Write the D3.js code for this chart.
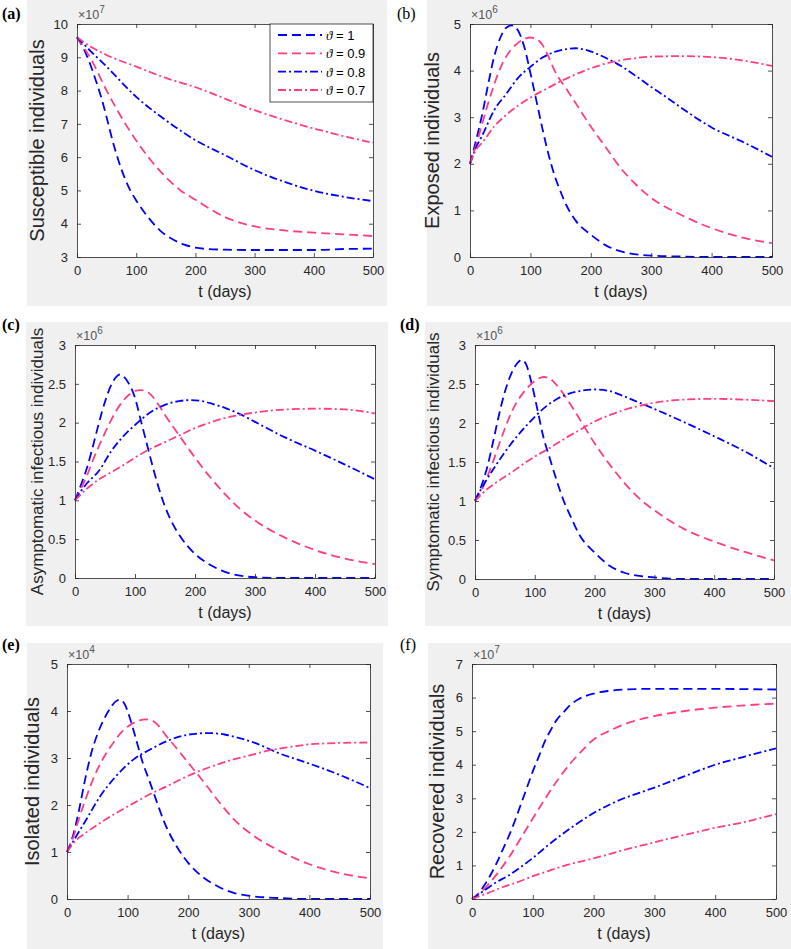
<!DOCTYPE html>
<html lang="en">
<head>
<meta charset="UTF-8">
<title>SEIR model compartments for different theta</title>
<script src="https://cdnjs.cloudflare.com/ajax/libs/d3/7.8.5/d3.min.js"></script>
<style>
  body { margin: 0; background: #fff; }
  svg { display: block; }
</style>
</head>
<body>
<svg id="fig" width="791" height="949"></svg>
<script>
// ---- data: [t (days), value in units of the panel exponent] ----
const thetaLabels = ["1", "0.9", "0.8", "0.7"];

// (a) susceptible, x10^7
const susT1 = [[0,9.6],[10,9.3],[20,8.9],[30,8.4],[40,7.85],[50,7.2],[60,6.5],[70,5.9],[80,5.4],[90,5.0],[100,4.7],[120,4.2],[140,3.8],[160,3.55],[180,3.38],[200,3.28],[220,3.24],[250,3.22],[300,3.21],[350,3.21],[400,3.21],[450,3.24],[500,3.25]];
const susT09 = [[0,9.6],[25,8.9],[50,8.0],[75,7.2],[100,6.5],[125,5.9],[150,5.4],[175,5.0],[200,4.72],[250,4.2],[300,3.92],[350,3.8],[400,3.73],[450,3.68],[500,3.63]];
const susT08 = [[0,9.6],[25,9.15],[50,8.72],[100,7.81],[150,7.11],[200,6.51],[250,6.06],[300,5.61],[350,5.26],[400,4.99],[450,4.81],[500,4.68]];
const susT07 = [[0,9.6],[25,9.3],[50,9.07],[100,8.72],[150,8.38],[200,8.1],[300,7.41],[400,6.86],[500,6.43]];

// (b) exposed, x10^6
const expT1 = [[0,2.0],[10,2.5],[20,3.05],[30,3.7],[40,4.3],[50,4.7],[60,4.92],[70,4.97],[80,4.85],[90,4.5],[100,3.95],[110,3.35],[120,2.75],[130,2.2],[140,1.75],[150,1.4],[160,1.1],[175,0.78],[200,0.48],[225,0.25],[250,0.12],[300,0.03],[350,0.01],[400,0],[500,0]];
const expT09 = [[0,2.0],[10,2.4],[20,2.85],[30,3.3],[40,3.7],[50,4.05],[60,4.3],[70,4.48],[80,4.6],[90,4.68],[100,4.71],[110,4.68],[120,4.55],[130,4.3],[140,4.0],[160,3.6],[180,3.2],[200,2.8],[225,2.35],[250,1.9],[275,1.55],[300,1.27],[350,0.9],[400,0.62],[450,0.42],[500,0.3]];
const expT08 = [[0,2.0],[10,2.35],[20,2.6],[40,3.15],[60,3.5],[80,3.85],[100,4.08],[120,4.28],[140,4.4],[160,4.46],[175,4.48],[190,4.45],[210,4.36],[230,4.24],[250,4.1],[275,3.88],[300,3.65],[325,3.43],[350,3.2],[375,2.98],[400,2.78],[450,2.48],[500,2.15]];
const expT07 = [[0,2.0],[10,2.3],[20,2.45],[40,2.8],[60,3.05],[80,3.25],[100,3.42],[125,3.6],[150,3.77],[175,3.92],[200,4.05],[225,4.15],[250,4.22],[275,4.27],[300,4.3],[350,4.31],[400,4.29],[450,4.22],[500,4.1]];

// (c) asymptomatic infectious, x10^6
const asyT1 = [[0,1.0],[10,1.2],[20,1.42],[30,1.7],[40,2.0],[50,2.27],[60,2.48],[70,2.6],[75,2.62],[80,2.6],[90,2.5],[100,2.32],[110,2.02],[120,1.72],[130,1.42],[140,1.15],[150,0.92],[160,0.74],[175,0.54],[200,0.31],[225,0.17],[250,0.08],[275,0.03],[300,0.01],[350,0],[500,0]];
const asyT09 = [[0,1.0],[10,1.15],[20,1.32],[30,1.52],[40,1.7],[50,1.87],[60,2.03],[70,2.17],[80,2.28],[90,2.36],[100,2.41],[110,2.42],[120,2.4],[130,2.33],[140,2.22],[150,2.1],[175,1.82],[200,1.55],[225,1.3],[250,1.08],[275,0.89],[300,0.74],[350,0.52],[400,0.36],[450,0.25],[500,0.18]];
const asyT08 = [[0,1.0],[10,1.12],[20,1.22],[40,1.38],[60,1.63],[80,1.82],[100,1.97],[125,2.13],[150,2.23],[175,2.28],[190,2.29],[210,2.28],[230,2.24],[250,2.19],[275,2.11],[300,2.01],[350,1.81],[400,1.64],[450,1.46],[500,1.27]];
const asyT07 = [[0,1.0],[20,1.15],[40,1.27],[60,1.36],[80,1.45],[100,1.55],[125,1.66],[150,1.75],[175,1.84],[200,1.93],[225,2.0],[250,2.06],[275,2.1],[300,2.13],[350,2.17],[400,2.18],[450,2.17],[500,2.12]];

// (d) symptomatic infectious, x10^6
const symT1 = [[0,1.0],[10,1.18],[20,1.42],[30,1.75],[40,2.1],[50,2.4],[60,2.62],[70,2.76],[78,2.81],[85,2.76],[95,2.5],[105,2.15],[115,1.8],[125,1.55],[135,1.3],[150,0.97],[160,0.8],[175,0.56],[200,0.34],[225,0.17],[250,0.08],[275,0.04],[300,0.02],[350,0],[500,0]];
const symT09 = [[0,1.0],[10,1.12],[20,1.3],[30,1.5],[40,1.72],[50,1.93],[60,2.12],[70,2.27],[80,2.38],[90,2.47],[100,2.54],[115,2.59],[125,2.57],[135,2.5],[150,2.35],[175,2.05],[200,1.74],[225,1.47],[250,1.23],[275,1.03],[300,0.88],[350,0.64],[400,0.48],[450,0.35],[500,0.24]];
const symT08 = [[0,1.0],[10,1.15],[20,1.28],[35,1.46],[60,1.73],[90,2.0],[120,2.22],[145,2.34],[175,2.41],[200,2.43],[225,2.41],[250,2.34],[275,2.26],[300,2.18],[350,2.01],[400,1.83],[450,1.64],[500,1.42]];
const symT07 = [[0,1.0],[20,1.15],[40,1.26],[60,1.36],[80,1.47],[100,1.57],[125,1.68],[150,1.8],[175,1.91],[200,2.02],[225,2.1],[250,2.17],[275,2.22],[300,2.26],[350,2.3],[400,2.31],[450,2.3],[500,2.28]];

// (e) isolated, x10^4
const isoT1 = [[0,1.0],[10,1.35],[20,1.9],[30,2.55],[40,3.1],[50,3.5],[60,3.8],[70,4.03],[80,4.2],[88,4.24],[95,4.15],[105,3.8],[115,3.35],[125,2.9],[135,2.55],[150,2.0],[160,1.65],[180,1.14],[200,0.77],[225,0.46],[250,0.26],[275,0.13],[300,0.07],[350,0.02],[400,0],[500,0]];
const isoT09 = [[0,1.0],[10,1.3],[20,1.72],[30,2.1],[40,2.45],[50,2.75],[60,3.0],[75,3.3],[90,3.55],[105,3.71],[120,3.8],[130,3.82],[140,3.8],[150,3.7],[165,3.45],[180,3.22],[200,2.9],[225,2.5],[250,2.08],[275,1.7],[300,1.42],[350,1.03],[400,0.74],[450,0.55],[500,0.44]];
const isoT08 = [[0,1.0],[15,1.33],[30,1.65],[55,2.19],[80,2.6],[110,2.97],[140,3.2],[165,3.36],[190,3.47],[215,3.52],[235,3.53],[260,3.5],[280,3.44],[310,3.32],[350,3.1],[400,2.88],[450,2.64],[500,2.36]];
const isoT07 = [[0,1.0],[15,1.25],[30,1.4],[55,1.62],[80,1.82],[110,2.04],[140,2.25],[165,2.4],[190,2.56],[220,2.73],[250,2.87],[275,2.97],[300,3.05],[330,3.15],[360,3.22],[400,3.29],[450,3.32],[500,3.33]];

// (f) recovered, x10^7
const recT1 = [[0,0],[10,0.15],[20,0.4],[30,0.7],[40,1.05],[50,1.45],[60,1.85],[70,2.3],[80,2.8],[90,3.3],[100,3.8],[110,4.25],[120,4.7],[130,5.05],[140,5.35],[150,5.55],[160,5.75],[175,5.95],[200,6.12],[225,6.2],[250,6.24],[300,6.26],[400,6.26],[450,6.25],[500,6.24]];
const recT09 = [[0,0],[20,0.3],[40,0.72],[60,1.22],[80,1.8],[100,2.4],[120,2.98],[140,3.52],[160,4.0],[180,4.4],[200,4.75],[225,5.0],[250,5.2],[300,5.45],[350,5.6],[400,5.7],[450,5.77],[500,5.82]];
const recT08 = [[0,0],[20,0.25],[40,0.5],[60,0.7],[80,0.95],[100,1.22],[125,1.6],[150,1.95],[175,2.27],[200,2.56],[225,2.8],[250,3.0],[275,3.16],[300,3.32],[350,3.66],[400,4.0],[450,4.25],[500,4.49]];
const recT07 = [[0,0],[25,0.17],[50,0.35],[75,0.5],[100,0.68],[125,0.83],[150,0.98],[175,1.1],[200,1.21],[250,1.46],[300,1.69],[350,1.91],[400,2.12],[450,2.3],[500,2.53]];

const xTicks = [0, 100, 200, 300, 400, 500];

// ---- styles ----
const BLUE = "#0000ff", PINK = "#ff3d84";
const seriesStyle = [
  { color: BLUE, dash: "9,5" },
  { color: PINK, dash: "9,5" },
  { color: BLUE, dash: "8,3,2,3" },
  { color: PINK, dash: "8,3,2,3" }
];
const AXIS = "#262626";
const SANS = "Liberation Sans, Arial, Helvetica, sans-serif";
const SERIF = "Liberation Serif, DejaVu Serif, serif";

// panel layout (pixels in the 791x949 figure)
const panels = [
  { tag: "(a)", bold: true,  tagX: 2,   tagY: 19,  bg: [27, 0, 360, 306],  box: [77, 24, 373, 257],
    yLabel: "Susceptible individuals", yFont: 20, yLabelX: 37, yDomain: [3, 10], yTicks: d3.range(3, 11), exp: 7,
    data: [susT1, susT09, susT08, susT07], legend: true },
  { tag: "(b)", bold: false, tagX: 397, tagY: 19,  bg: [427, 0, 364, 306], box: [470, 24, 772, 257],
    yLabel: "Exposed individuals", yFont: 20, yLabelX: 432, yDomain: [0, 5], yTicks: d3.range(0, 6), exp: 6,
    data: [expT1, expT09, expT08, expT07] },
  { tag: "(c)", bold: true,  tagX: 2,   tagY: 330, bg: [26, 322, 362, 304], box: [75, 345, 375, 578],
    yLabel: "Asymptomatic infectious individuals", yFont: 17, yLabelX: 37, yDomain: [0, 3], yTicks: d3.range(0, 3.01, 0.5), exp: 6,
    data: [asyT1, asyT09, asyT08, asyT07] },
  { tag: "(d)", bold: true,  tagX: 400, tagY: 330, bg: [425, 322, 366, 304], box: [475, 345, 774, 579],
    yLabel: "Symptomatic infectious individuals", yFont: 17, yLabelX: 433, yDomain: [0, 3], yTicks: d3.range(0, 3.01, 0.5), exp: 6,
    data: [symT1, symT09, symT08, symT07] },
  { tag: "(e)", bold: true,  tagX: 2,   tagY: 650, bg: [27, 643, 356, 306], box: [67, 664, 370, 899],
    yLabel: "Isolated individuals", yFont: 20, yLabelX: 32, yDomain: [0, 5], yTicks: d3.range(0, 6), exp: 4,
    data: [isoT1, isoT09, isoT08, isoT07] },
  { tag: "(f)", bold: false, tagX: 400, tagY: 650, bg: [428, 643, 363, 306], box: [472, 664, 776, 899],
    yLabel: "Recovered individuals", yFont: 20, yLabelX: 437, yDomain: [0, 7], yTicks: d3.range(0, 8), exp: 7,
    data: [recT1, recT09, recT08, recT07] }
];

const svg = d3.select("#fig");

panels.forEach(p => {
  const [x0, y0, x1, y1] = p.box;

  // gray figure background
  svg.append("rect")
    .attr("x", p.bg[0]).attr("y", p.bg[1])
    .attr("width", p.bg[2]).attr("height", p.bg[3])
    .attr("fill", "#f0f0f0");

  const x = d3.scaleLinear().domain([0, 500]).range([x0, x1]);
  const y = d3.scaleLinear().domain(p.yDomain).range([y1, y0]);

  svg.append("rect")
    .attr("x", x0).attr("y", y0)
    .attr("width", x1 - x0).attr("height", y1 - y0)
    .attr("fill", "#fff");

  // curves
  const line = d3.line()
    .x(d => x(d[0]))
    .y(d => y(d[1]))
    .curve(d3.curveMonotoneX);

  const g = svg.append("g");
  p.data.forEach((s, i) => {
    g.append("path")
      .datum(s)
      .attr("d", line)
      .attr("fill", "none")
      .attr("stroke", seriesStyle[i].color)
      .attr("stroke-width", 1.8)
      .attr("stroke-dasharray", seriesStyle[i].dash);
  });

  // axes, MATLAB style: inward ticks on all sides
  const fmt = d3.format("~g");
  const bottom = svg.append("g").attr("transform", `translate(0,${y1})`)
    .call(d3.axisBottom(x).tickValues(xTicks).tickSizeInner(-4).tickSizeOuter(0).tickPadding(9).tickFormat(fmt));
  const top = svg.append("g").attr("transform", `translate(0,${y0})`)
    .call(d3.axisTop(x).tickValues(xTicks).tickSizeInner(-4).tickSizeOuter(0).tickFormat(""));
  const left = svg.append("g").attr("transform", `translate(${x0},0)`)
    .call(d3.axisLeft(y).tickValues(p.yTicks).tickSizeInner(-4).tickSizeOuter(0).tickPadding(9).tickFormat(fmt));
  const right = svg.append("g").attr("transform", `translate(${x1},0)`)
    .call(d3.axisRight(y).tickValues(p.yTicks).tickSizeInner(-4).tickSizeOuter(0).tickFormat(""));

  [bottom, top, left, right].forEach(a => {
    a.attr("font-family", SANS).attr("font-size", 13);
    a.select(".domain").attr("stroke", AXIS).attr("stroke-width", 0.8);
    a.selectAll(".tick line").attr("stroke", AXIS).attr("stroke-width", 0.8);
    a.selectAll(".tick text").attr("fill", AXIS);
  });

  // exponent label
  const ex = svg.append("text")
    .attr("x", x0 + 1).attr("y", y0 - 5)
    .attr("font-family", SANS).attr("font-size", 12.5).attr("fill", "#555");
  ex.append("tspan").text("\u00d710");
  ex.append("tspan").attr("dy", -6).attr("font-size", 10).text(p.exp);

  // axis titles
  svg.append("text")
    .attr("x", (x0 + x1) / 2).attr("y", y1 + 40)
    .attr("text-anchor", "middle")
    .attr("font-family", SANS).attr("font-size", 16).attr("fill", AXIS)
    .text("t (days)");

  svg.append("text")
    .attr("transform", `translate(${p.yLabelX},${(y0 + y1) / 2}) rotate(-90)`)
    .attr("text-anchor", "middle").attr("dominant-baseline", "central")
    .attr("font-family", SANS).attr("font-size", p.yFont).attr("fill", AXIS)
    .text(p.yLabel);

  // panel tag
  svg.append("text")
    .attr("x", p.tagX).attr("y", p.tagY)
    .attr("font-family", SERIF).attr("font-size", 16)
    .attr("font-weight", p.bold ? "bold" : "normal")
    .attr("fill", "#000")
    .text(p.tag);

  // legend
  if (p.legend) {
    const lg = svg.append("g");
    lg.append("rect")
      .attr("x", 270).attr("y", y0)
      .attr("width", x1 - 270).attr("height", 78)
      .attr("fill", "#fff").attr("stroke", AXIS).attr("stroke-width", 0.8);
    const rows = d3.scalePoint().domain(thetaLabels).range([y0 + 11, y0 + 66]);
    thetaLabels.forEach((lab, i) => {
      const yy = rows(lab);
      lg.append("line")
        .attr("x1", 278).attr("x2", 322).attr("y1", yy).attr("y2", yy)
        .attr("stroke", seriesStyle[i].color).attr("stroke-width", 1.8)
        .attr("stroke-dasharray", seriesStyle[i].dash);
      const t = lg.append("text")
        .attr("x", 326).attr("y", yy).attr("dominant-baseline", "central")
        .attr("font-family", SANS).attr("font-size", 13).attr("fill", "#000");
      t.append("tspan").attr("font-style", "italic").attr("font-family", SERIF).text("\u03d1");
      t.append("tspan").text(" = " + lab);
    });
  }
});
</script>
</body>
</html>
